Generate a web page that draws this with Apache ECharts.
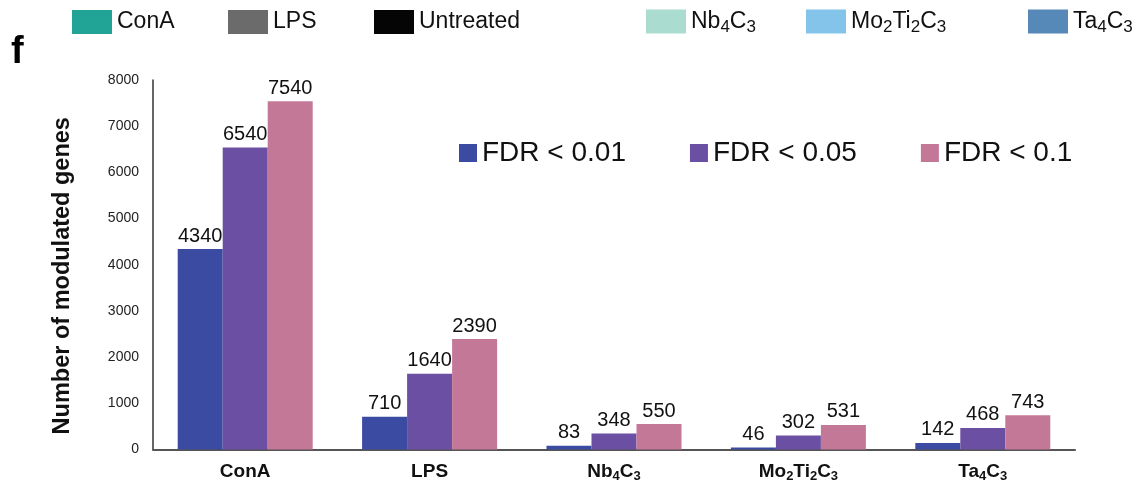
<!DOCTYPE html>
<html>
<head>
<meta charset="utf-8">
<script src="https://cdn.jsdelivr.net/npm/echarts@6/dist/echarts.min.js"></script>
<style>html,body{margin:0;padding:0;background:#fff;}#c{width:1148px;height:483px;}</style>
</head>
<body>
<div id="c"></div>
<script>
const categories = ['ConA', 'LPS', 'Nb4C3', 'Mo2Ti2C3', 'Ta4C3'];
const fdr001 = [4340, 710, 83, 46, 142];
const fdr005 = [6540, 1640, 348, 302, 468];
const fdr01 = [7540, 2390, 550, 531, 743];
const seriesNames = ['FDR < 0.01', 'FDR < 0.05', 'FDR < 0.1'];
const treatmentNames = ['ConA', 'LPS', 'Untreated', 'Nb4C3', 'Mo2Ti2C3', 'Ta4C3'];
const treatmentColors = ['#21a396', '#6b6b6b', '#050505', '#aadccf', '#84c3ea', '#5688b8'];
const yTicks = { min: 0, max: 8000, interval: 1000 };

const FONT = "'Liberation Sans', Arial, Helvetica, sans-serif";
function subFmt(name, main, sub) {
  return name.replace(/([^0-9]+)|([0-9]+)/g, (m, a, b) => a ? '{' + main + '|' + a + '}' : '{' + sub + '|' + b + '}');
}

const chart = echarts.init(document.getElementById('c'), null, { renderer: 'canvas' });
const barColors = ['#3a4ba1', '#6a4fa3', '#c47897'];
const dataSets = [fdr001, fdr005, fdr01];

const series = dataSets.map((d, i) => ({
  name: seriesNames[i],
  type: 'bar',
  data: d,
  barWidth: 45,
  barGap: '0%',
  itemStyle: { color: barColors[i] },
  label: { show: true, position: 'top', distance: 3, fontSize: 20, color: '#111', fontFamily: FONT }
}));
treatmentNames.forEach((n, i) => {
  series.push({ name: n, type: 'scatter', data: [], itemStyle: { color: treatmentColors[i], opacity: 1 } });
});

const topLegendText = {
  fontSize: 23, color: '#111', fontFamily: FONT,
  rich: {
    m: { fontSize: 23, fontFamily: FONT, color: '#111', lineHeight: 29 },
    s: { fontSize: 17, fontFamily: FONT, color: '#111', lineHeight: 17, padding: [12, 0, 0, 0] }
  }
};
const topLefts = [72, 228, 374, 646, 806, 1028];
const topLegends = treatmentNames.map((n, i) => ({
  data: [n], left: topLefts[i], top: /[0-9]/.test(n) ? 7 : 10, padding: 0, itemWidth: 40, itemHeight: 24, icon: 'rect',
  itemStyle: { opacity: 1 },
  formatter: v => subFmt(v, 'm', 's'), textStyle: topLegendText, selectedMode: false
}));

chart.setOption({
  animation: false,
  title: { text: 'f', left: 11, top: 34, padding: 0, textStyle: { fontSize: 38, fontWeight: 'bold', color: '#000', fontFamily: FONT } },
  grid: { left: 153, right: 73, top: 80, bottom: 33, containLabel: false },
  legend: [
    {
      data: seriesNames, left: 459, top: 139, padding: 0, itemWidth: 18, itemHeight: 18, itemGap: 64, icon: 'rect',
      textStyle: { fontSize: 28, color: '#111', fontFamily: FONT }, selectedMode: false
    }
  ].concat(topLegends),
  xAxis: {
    type: 'category', data: categories,
    axisLine: { lineStyle: { color: '#555', width: 2 } },
    axisTick: { show: false },
    axisLabel: {
      interval: 0, margin: 11, formatter: v => subFmt(v, 'm', 's'),
      rich: {
        m: { fontSize: 19, fontWeight: 'bold', color: '#111', fontFamily: FONT, lineHeight: 22 },
        s: { fontSize: 13, fontWeight: 'bold', color: '#111', fontFamily: FONT, lineHeight: 13, padding: [10, 0, 0, 0] }
      }
    }
  },
  yAxis: {
    type: 'value', min: yTicks.min, max: yTicks.max, interval: yTicks.interval,
    name: 'Number of modulated genes', nameLocation: 'middle', nameGap: 78,
    nameTextStyle: { fontSize: 23.5, fontWeight: 'bold', color: '#111', fontFamily: FONT, padding: [0, 22, 0, 0] },
    axisLine: { show: true, lineStyle: { color: '#333', width: 1.5 } },
    axisTick: { show: false },
    splitLine: { show: false },
    axisLabel: { fontSize: 14, color: '#222', margin: 14, fontFamily: FONT, formatter: v => String(v) }
  },
  series: series
});
</script>
</body>
</html>
